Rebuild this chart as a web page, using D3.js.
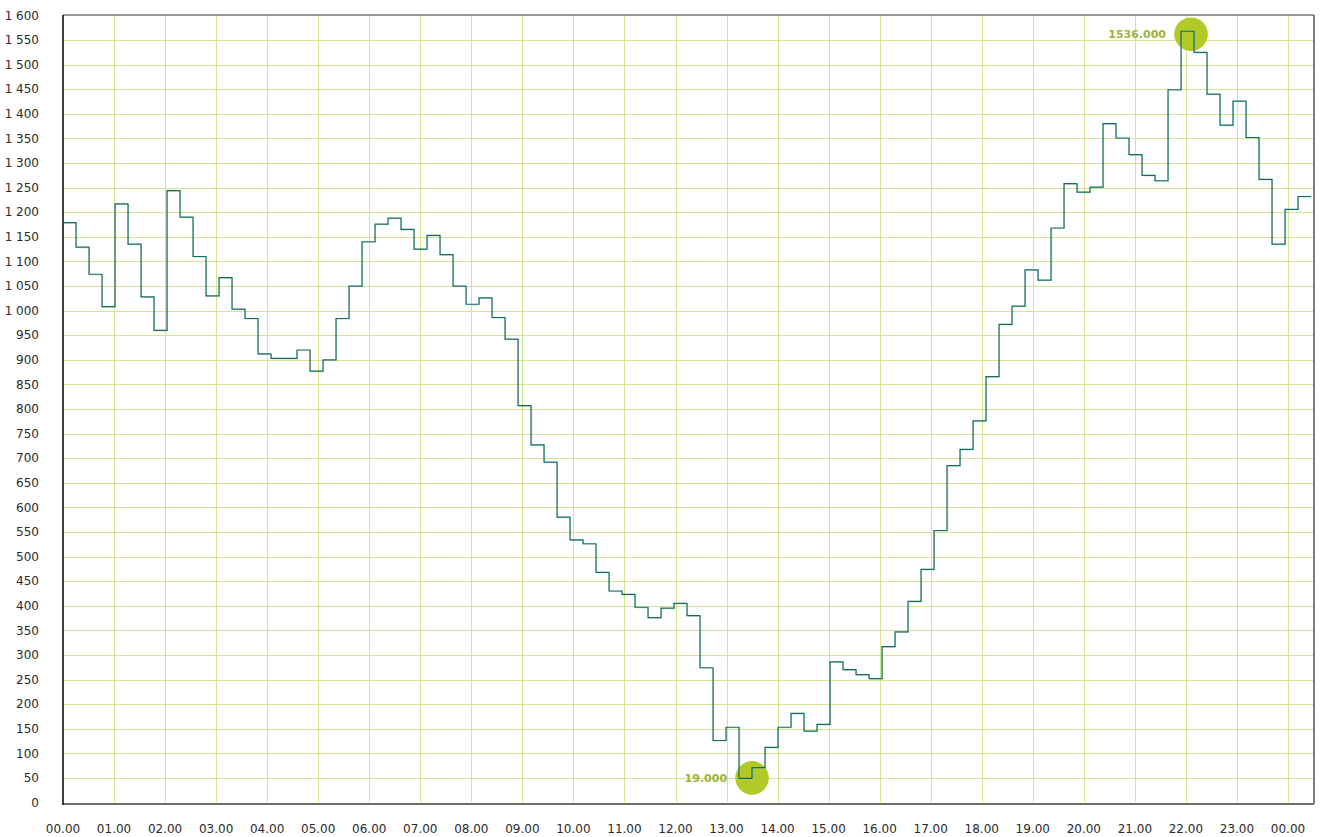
<!DOCTYPE html>
<html>
<head>
<meta charset="utf-8">
<script src="https://cdn.jsdelivr.net/npm/d3@7"></script>
<style>
  body { margin: 0; background: #fff; }
  svg text { font-family: "DejaVu Sans", sans-serif; }
</style>
</head>
<body>
<div class="chart"></div>
<script>
// one value per step, 96 steps over the day
var values = [
  1179, 1129, 1074, 1008, 1217, 1135, 1028, 960,
  1244, 1190, 1110, 1030, 1067, 1003, 984, 912,
  903, 903, 920, 877, 900, 984, 1050, 1140,
  1176, 1188, 1165, 1125, 1153, 1114, 1050, 1013,
  1026, 986, 942, 807, 727, 692, 580, 534,
  526, 468, 430, 423, 397, 376, 395, 405,
  380, 274, 126, 153, 49, 71, 112, 153,
  181, 145, 159, 286, 270, 260, 252, 317,
  347, 409, 474, 553, 685, 718, 776, 866,
  972, 1009, 1083, 1062, 1168, 1258, 1241, 1251,
  1380, 1351, 1317, 1275, 1264, 1449, 1568, 1525,
  1440, 1377, 1426, 1352, 1267, 1135, 1206, 1232
];

var hourTicks = d3.range(0, 25);
var yTicks = d3.range(0, 1601, 50);

// min / max markers
var markerHours = [13.5, 22.1];
var markerValues = [50, 1562];
var markerLabels = ["19.000", "1536.000"];

drawChart();

function drawChart() {
    var width = 1320, height = 837;
    var left = 63, right = 1314, top = 15.5, bottom = 802.5;

    var svg = d3.select(".chart")
        .append("svg")
        .attr("width", width)
        .attr("height", height);

    var y = d3.scaleLinear().domain([0, 1600]).range([bottom, top]);
    var xIdx = d3.scaleLinear().domain([0, values.length]).range([left, 1311]);
    var xHour = d3.scaleLinear().domain([0, 24]).range([left, 1288]);

    var locale = d3.formatLocale({decimal: ".", thousands: " ", grouping: [3], currency: ["", ""]});
    var fmt = locale.format(",");

    var gridColor = "#d6e391";

    // horizontal grid
    svg.append("g").selectAll("line")
        .data(yTicks.filter(d => d > 0 && d < 1600))
        .enter().append("line")
        .attr("x1", left).attr("x2", right)
        .attr("y1", d => Math.round(y(d)) + 0.5)
        .attr("y2", d => Math.round(y(d)) + 0.5)
        .attr("stroke", gridColor)
        .attr("stroke-width", 1);

    // vertical grid
    svg.append("g").selectAll("line")
        .data(hourTicks.filter(d => d > 0))
        .enter().append("line")
        .attr("x1", d => Math.round(xHour(d)) + 0.5)
        .attr("x2", d => Math.round(xHour(d)) + 0.5)
        .attr("y1", top).attr("y2", bottom)
        .attr("stroke", gridColor)
        .attr("stroke-width", 1);

    // frame
    svg.append("line")
        .attr("x1", left).attr("x2", right)
        .attr("y1", 15).attr("y2", 15)
        .attr("stroke", "#333").attr("stroke-width", 1.2);
    svg.append("line")
        .attr("x1", right).attr("x2", right)
        .attr("y1", 15).attr("y2", 804)
        .attr("stroke", "#555").attr("stroke-width", 1.5);
    svg.append("line")
        .attr("x1", left).attr("x2", right)
        .attr("y1", 804).attr("y2", 804)
        .attr("stroke", "#6e6e6e").attr("stroke-width", 2);
    svg.append("line")
        .attr("x1", left).attr("x2", left)
        .attr("y1", 15).attr("y2", 805)
        .attr("stroke", "#111").attr("stroke-width", 1.6);

    // y labels
    svg.append("g").selectAll("text")
        .data(yTicks)
        .enter().append("text")
        .attr("x", 39)
        .attr("y", d => y(d))
        .attr("dy", "0.35em")
        .attr("text-anchor", "end")
        .attr("font-size", 12)
        .attr("fill", "#2b2b2b")
        .text(d => fmt(d));

    // x labels
    svg.append("g").selectAll("text")
        .data(hourTicks)
        .enter().append("text")
        .attr("x", d => xHour(d))
        .attr("y", 829)
        .attr("dy", "0.35em")
        .attr("text-anchor", "middle")
        .attr("font-size", 12)
        .attr("fill", "#2b2b2b")
        .text(d => d3.format("02")(d % 24) + ".00");

    // markers under the line
    var markers = markerHours.map((h, i) => ({h: h, v: markerValues[i], label: markerLabels[i]}));

    svg.append("g").selectAll("circle")
        .data(markers)
        .enter().append("circle")
        .attr("cx", d => xHour(d.h))
        .attr("cy", d => y(d.v))
        .attr("r", 16.8)
        .attr("fill", "#b1ca27");

    svg.append("g").selectAll("text")
        .data(markers)
        .enter().append("text")
        .attr("x", d => xHour(d.h) - 25)
        .attr("y", d => y(d.v))
        .attr("dy", "0.35em")
        .attr("text-anchor", "end")
        .attr("font-size", 11)
        .attr("font-weight", "bold")
        .attr("fill", "#9db534")
        .text(d => d.label);

    // step line
    var pts = values.map((v, i) => [xIdx(i), y(v)]);
    pts.push([xIdx(values.length), y(values[values.length - 1])]);

    var line = d3.line().curve(d3.curveStepAfter);

    svg.append("path")
        .attr("d", line(pts.map(p => [p[0] + 0.6, p[1] + 0.6])))
        .attr("fill", "none")
        .attr("stroke", "#9ccac1")
        .attr("stroke-opacity", 0.6)
        .attr("stroke-width", 1);

    svg.append("path")
        .attr("d", line(pts))
        .attr("fill", "none")
        .attr("stroke", "#136c60")
        .attr("stroke-width", 1.2);
}
</script>
</body>
</html>
